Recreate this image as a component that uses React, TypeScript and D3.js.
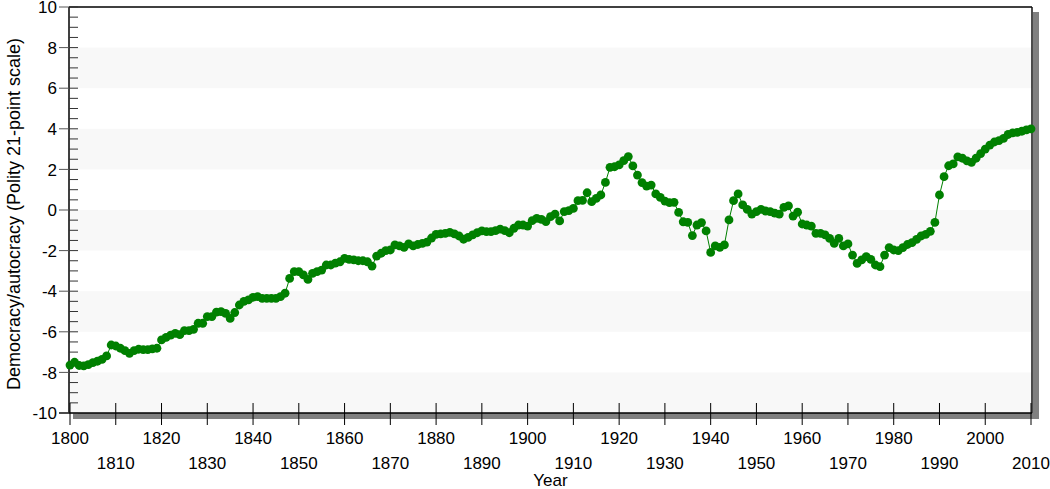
import React from 'react';
import * as d3 from 'd3';

const firstYear = 1800;
const lastYear = 2010;

// mean polity score per year
const polity = [
  -7.64, -7.5, -7.66, -7.68, -7.62, -7.52, -7.45, -7.36, -7.19, -6.65,
  -6.7, -6.81, -6.93, -7.06, -6.93, -6.86, -6.88, -6.88, -6.84, -6.81,
  -6.4, -6.27, -6.16, -6.08, -6.14, -5.94, -5.94, -5.88, -5.58, -5.58,
  -5.25, -5.25, -5.03, -5.01, -5.09, -5.34, -5.05, -4.68, -4.5, -4.43,
  -4.3, -4.27, -4.35, -4.35, -4.35, -4.35, -4.27, -4.1, -3.37, -3.04,
  -3.04, -3.2, -3.42, -3.12, -3.04, -2.96, -2.71, -2.71, -2.62, -2.55,
  -2.38, -2.43, -2.46, -2.5, -2.5, -2.55, -2.76, -2.27, -2.13, -2.0,
  -1.97, -1.72, -1.77, -1.84, -1.67, -1.77, -1.7, -1.64, -1.58, -1.38,
  -1.2, -1.18, -1.15, -1.1, -1.18, -1.28, -1.44, -1.35, -1.23, -1.12,
  -1.03, -1.07, -1.07, -1.02, -0.94, -1.02, -1.12, -0.9, -0.74, -0.74,
  -0.79, -0.52, -0.41, -0.46, -0.57, -0.33, -0.2, -0.54, -0.08, -0.03,
  0.08, 0.46, 0.47, 0.85, 0.41, 0.57, 0.74, 1.36, 2.1, 2.13,
  2.22, 2.43, 2.63, 2.17, 1.72, 1.35, 1.18, 1.23, 0.79, 0.62,
  0.44, 0.36, 0.38, -0.12, -0.58, -0.61, -1.26, -0.74, -0.62, -1.03,
  -2.09, -1.77, -1.84, -1.72, -0.49, 0.46, 0.79, 0.25, 0.03, -0.2,
  -0.08, 0.03, -0.05, -0.08, -0.15, -0.2, 0.13, 0.2, -0.3, -0.11,
  -0.69, -0.74, -0.79, -1.15, -1.15, -1.23, -1.4, -1.64, -1.4, -1.77,
  -1.67, -2.22, -2.63, -2.46, -2.3, -2.43, -2.71, -2.79, -2.22, -1.85,
  -1.97, -2.0, -1.85, -1.7, -1.61, -1.45, -1.28, -1.2, -1.05, -0.61,
  0.74, 1.64, 2.18, 2.27, 2.62, 2.55, 2.42, 2.35, 2.55, 2.78,
  3.0, 3.2, 3.35, 3.42, 3.53, 3.72, 3.8, 3.82, 3.88, 3.95,
  4.0,
];

const years = d3.range(firstYear, lastYear + 1);
const xTicks = [1800, 1810, 1820, 1830, 1840, 1850, 1860, 1870, 1880, 1890, 1900,
  1910, 1920, 1930, 1940, 1950, 1960, 1970, 1980, 1990, 2000, 2010];
const yTicks = [-10, -8, -6, -4, -2, 0, 2, 4, 6, 8, 10];
const bands = [[6, 8], [2, 4], [-2, 0], [-6, -4], [-10, -8]];

const W = 1050;
const H = 489;
const font = '"Liberation Sans", Arial, sans-serif';

export default function App() {
  const left = 69;
  const right = 1032;
  const top = 7;
  const bottom = 413;

  const x = d3.scaleLinear().domain([firstYear, lastYear]).range([70, 1031]);
  const y = d3.scaleLinear().domain([-10, 10]).range([bottom, top]);
  const minor = d3.range(-10, 10.01, 0.5);

  const pts = years.map((yr, i) => ({ yr, v: polity[i] })).filter((d) => d.v !== undefined);
  const line = d3
    .line<{ yr: number; v: number }>()
    .x((d) => x(d.yr))
    .y((d) => y(d.v));

  return (
    <svg
      width={W}
      height={H}
      style={{ position: 'absolute', left: 0, top: 0, background: '#fff' }}
      fontFamily={font}
    >
      {/* drop shadow of the plot frame */}
      <rect x={right + 1} y={top + 5} width={6} height={bottom - top + 1} fill="#808080" />
      <rect x={left + 4} y={bottom} width={right - left + 3} height={6} fill="#808080" />
      <rect x={left} y={top} width={right - left} height={bottom - top} fill="#fff" />

      {bands.map(([a, b]) => (
        <rect key={a} x={left} y={y(b)} width={right - left} height={y(a) - y(b)} fill="#f8f8f8" />
      ))}

      {/* frame */}
      <line x1={left} x2={right} y1={top} y2={top} stroke="#000" strokeWidth={1.5} />
      <line x1={right} x2={right} y1={top} y2={bottom} stroke="#111" strokeWidth={1.5} />
      <line x1={left} x2={left} y1={top} y2={bottom} stroke="#000" strokeWidth={1.5} />
      <line x1={left - 10} x2={right} y1={bottom} y2={bottom} stroke="#000" strokeWidth={1.5} />

      {/* y ticks */}
      {minor.map((v) => (
        <line key={'m' + v} x1={left} x2={left + 9} y1={y(v)} y2={y(v)} stroke="#333" strokeWidth={1} />
      ))}
      {yTicks.map((v) => (
        <g key={'y' + v}>
          <line x1={left - 10} x2={left} y1={y(v)} y2={y(v)} stroke="#555" strokeWidth={1} />
          <text x={57} y={y(v)} dy="0.36em" textAnchor="end" fontSize={17} fill="#000">
            {v}
          </text>
        </g>
      ))}

      {/* x ticks */}
      {xTicks.map((t, i) => (
        <g key={'x' + t}>
          <line x1={x(t)} x2={x(t)} y1={bottom - 10} y2={bottom + 12} stroke="#000" strokeWidth={1} />
          <text x={x(t)} y={444} dy={i % 2 === 0 ? 0 : 25} textAnchor="middle" fontSize={17} fill="#000">
            {t}
          </text>
        </g>
      ))}

      <text x={(left + right) / 2} y={486} textAnchor="middle" fontSize={17} fill="#000">
        Year
      </text>
      <text
        transform={`translate(20,${(top + bottom) / 2 + 4}) rotate(-90)`}
        textAnchor="middle"
        fontSize={18}
        fill="#000"
      >
        Democracy/autocracy (Polity 21-point scale)
      </text>

      <path d={line(pts) || ''} fill="none" stroke="#008000" strokeWidth={1} />
      {pts.map((d) => (
        <circle key={d.yr} cx={x(d.yr)} cy={y(d.v)} r={4.4} fill="#008000" />
      ))}
    </svg>
  );
}
